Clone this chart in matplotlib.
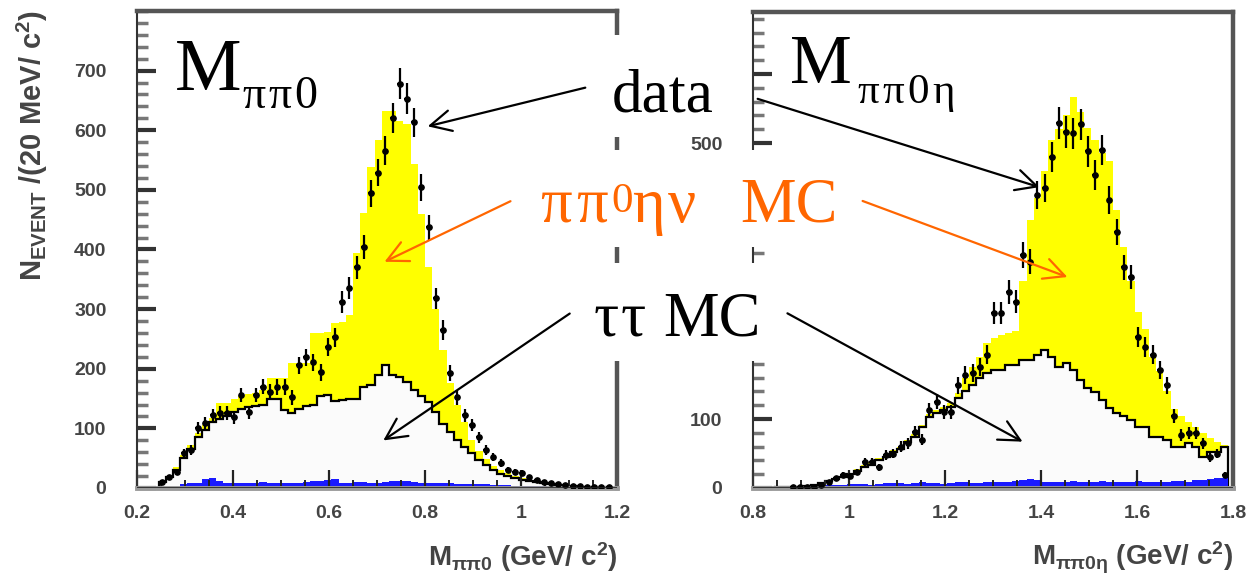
import numpy as np
import matplotlib
matplotlib.use('Agg')
import matplotlib.pyplot as plt
from matplotlib.patches import Rectangle, FancyArrowPatch
from matplotlib.ticker import MultipleLocator

W, H = 1249, 585

# histogram binning (15 MeV bins)
edges_L = 0.2 + 0.015 * np.arange(67)
edges_R = 0.8 + 0.015 * np.arange(67)

# M(pi pi0) panel
data_L = [0, 0, 0, 10, 18, 27, 58, 64, 100, 109, 122, 126, 126, 119, 156, 127, 156, 170, 161, 169,
          169, 152, 206, 219, 211, 194, 236, 253, 312, 335, 370, 404, 494, 529, 566, 621, 678, 653, 613, 504,
          437, 318, 265, 193, 152, 122, 106, 85, 64, 52, 42, 30, 27, 25, 18, 13, 10, 8, 7, 5,
          4, 3, 2, 2, 1, 1]
tautau_L = [0, 0, 0, 10, 18, 30, 50, 65, 85, 97, 110, 116, 120, 128, 132, 136, 138, 140, 150, 150,
            130, 125, 133, 138, 140, 155, 156, 146, 148, 150, 150, 170, 172, 189, 206, 189, 187, 177, 164, 155,
            145, 128, 108, 94, 80, 69, 59, 47, 38, 30, 24, 20, 16, 13, 11, 10, 8, 7, 5, 4,
            3, 2, 2, 1, 1, 0]
total_L = [0, 0, 0, 12, 20, 35, 56, 72, 92, 105, 118, 142, 142, 150, 154, 158, 160, 164, 184, 184,
           184, 209, 209, 209, 260, 260, 262, 276, 278, 290, 394, 461, 538, 583, 633, 633, 615, 611, 544, 460,
           370, 300, 231, 176, 140, 110, 80, 62, 48, 37, 30, 25, 20, 16, 13, 11, 9, 8, 6, 5,
           4, 3, 2, 2, 1, 1]
other_L = [0, 0, 0, 0, 0, 0, 6, 8, 9, 15, 16, 11, 9, 8, 8, 9, 9, 10, 9, 8,
           8, 8, 9, 10, 11, 12, 14, 15, 9, 9, 10, 10, 9, 9, 10, 11, 12, 11, 10, 9,
           9, 8, 8, 8, 7, 7, 7, 6, 6, 5, 5, 5, 4, 4, 3, 3, 3, 2, 2, 2,
           2, 1, 1, 1, 1, 0]

# M(pi pi0 eta) panel
data_R = [0, 0, 0, 0, 0, 1, 1, 2, 2, 5, 9, 14, 19, 17, 23, 38, 38, 30, 48, 50,
          60, 65, 81, 70, 113, 125, 110, 110, 149, 164, 167, 175, 193, 254, 254, 284, 270, 338, 328, 425,
          435, 480, 529, 516, 514, 527, 488, 454, 490, 417, 371, 320, 306, 219, 204, 193, 171, 149, 104, 77,
          80, 80, 65, 45, 50, 19]
tautau_R = [0, 0, 0, 1, 1, 2, 2, 3, 5, 7, 10, 13, 16, 20, 25, 30, 34, 40, 45, 52,
            57, 66, 74, 88, 103, 109, 113, 117, 130, 140, 150, 160, 167, 171, 171, 178, 178, 185, 185, 193,
            200, 190, 175, 181, 171, 157, 145, 139, 128, 116, 109, 104, 99, 88, 88, 74, 74, 70, 59, 59,
            65, 59, 45, 52, 52, 59]
total_R = [0, 0, 0, 1, 2, 3, 3, 4, 6, 9, 12, 15, 18, 22, 27, 33, 37, 43, 48, 55,
           60, 69, 78, 92, 107, 113, 118, 123, 137, 160, 175, 190, 210, 218, 222, 225, 228, 300, 388, 420,
           460, 504, 520, 540, 567, 545, 522, 505, 485, 474, 403, 350, 300, 255, 230, 190, 170, 140, 115, 105,
           95, 88, 80, 72, 66, 62]
other_R = [0, 0, 0, 0, 0, 0, 0, 0, 0, 0, 4, 5, 5, 6, 6, 6, 5, 6, 7, 7,
           7, 6, 7, 8, 7, 7, 6, 7, 8, 8, 7, 7, 8, 9, 9, 8, 10, 12, 13, 11,
           9, 8, 9, 9, 10, 9, 8, 9, 10, 9, 8, 9, 9, 10, 9, 9, 8, 9, 10, 10,
           9, 11, 12, 13, 14, 15]

xticks_L = [0.2, 0.4, 0.6, 0.8, 1.0, 1.2]
xlabels_L = ['0.2', '0.4', '0.6', '0.8', '1', '1.2']
xticks_R = [0.8, 1.0, 1.2, 1.4, 1.6, 1.8]
xlabels_R = ['0.8', '1', '1.2', '1.4', '1.6', '1.8']
yticks_L = [0, 100, 200, 300, 400, 500, 600, 700]
ylabels_L = ['0', '100', '200', '300', '400', '500', '600', '700']
yticks_R = [0, 100, 200, 300, 400, 500, 600]
# labels 200-400 and 600 sit under the annotation boxes in the original
ylabels_R = ['0', '100', '', '', '', '500', '']

plt.rcParams.update({
    'mathtext.fontset': 'custom',
    'mathtext.rm': 'Liberation Sans:bold',
    'mathtext.it': 'Liberation Sans:bold',
    'mathtext.bf': 'Liberation Sans:bold',
})

fig = plt.figure(figsize=(W / 100, H / 100), dpi=100)
axL = fig.add_axes([137 / W, 97 / H, 480 / W, 477 / H])
axR = fig.add_axes([753 / W, 97 / H, 480 / W, 476 / H])

gray = '#555555'


def panel(ax, edges, data, tau, total, other, xlim, ylim, xt, xl, yt, yl):
    centers = 0.5 * (edges[:-1] + edges[1:])
    ax.stairs(total, edges, fill=True, color='#ffff00', lw=0)
    ax.stairs(tau, edges, fill=True, color='#fbfbfb', lw=0)
    ax.stairs(tau, edges, color='black', lw=1.6)
    ax.stairs(other, edges, fill=True, color='#1a1aff', lw=0)
    d = np.array(data, dtype=float)
    m = d > 0
    ax.errorbar(centers[m], d[m], yerr=np.sqrt(d[m]), xerr=0.006, fmt='o', ms=3.8,
                color='black', elinewidth=1.6, capsize=0, zorder=4)
    ax.set_xlim(*xlim)
    ax.set_ylim(*ylim)
    ax.xaxis.set_minor_locator(MultipleLocator(0.05))
    ax.yaxis.set_minor_locator(MultipleLocator(20))
    ax.set_xticks(xt)
    ax.set_xticklabels(xl, fontsize=14, fontweight='bold', color='#444444', family='Liberation Sans')
    ax.set_yticks(yt)
    ax.set_yticklabels(yl, fontsize=14, fontweight='bold', color='#444444', family='Liberation Sans')
    ax.tick_params(axis='x', which='major', direction='in', length=13, width=1.6, pad=12, color='#222222')
    ax.tick_params(axis='x', which='minor', direction='in', length=6, width=1.4, color='#222222')
    ax.tick_params(axis='y', which='major', direction='in', length=14, width=3, pad=22, color='#333333')
    ax.tick_params(axis='y', which='minor', direction='in', length=8, width=2.5, color='#777777')
    ax.spines['top'].set_linewidth(3.2)
    ax.spines['top'].set_color(gray)
    ax.spines['right'].set_linewidth(3.2)
    ax.spines['right'].set_color(gray)
    ax.spines['left'].set_linewidth(1.5)
    ax.spines['left'].set_color('#333333')
    ax.spines['bottom'].set_linewidth(3.5)
    ax.spines['bottom'].set_color('#9a9a9a')
    ax.axhline(0, color='#222222', lw=1.2, zorder=5)


panel(axL, edges_L, data_L, tautau_L, total_L, other_L, (0.2, 1.2), (0, 800),
      xticks_L, xlabels_L, yticks_L, ylabels_L)
panel(axR, edges_R, data_R, tautau_R, total_R, other_R, (0.8, 1.8), (0, 690),
      xticks_R, xlabels_R, yticks_R, ylabels_R)

# axis titles (ROOT style, right/top aligned)
fig.text(617 / W, 1 - 566 / H, r'$M_{\pi\pi0}$ (GeV/ c$^{2}$)', ha='right', va='baseline',
         fontsize=20, fontweight='bold', color='#444444', family='Liberation Sans')
fig.text(1233 / W, 1 - 566 / H, r'$M_{\pi\pi0\eta}$ (GeV/ c$^{2}$)', ha='right', va='baseline',
         fontsize=20, fontweight='bold', color='#444444', family='Liberation Sans')
fig.text(32 / W, 1 - 10 / H, r'$N_{EVENT}$ /(20 MeV/ c$^{2}$)', rotation=90, ha='center', va='top',
         fontsize=21, fontweight='bold', color='#444444', family='Liberation Sans')


def fx(x, y):
    return (x / W, 1 - y / H)


# white boxes behind the annotation texts
for x0, y0, x1, y1 in [(560, 35, 748, 137), (522, 150, 852, 247), (576, 263, 778, 361)]:
    fig.add_artist(Rectangle(fx(x0, y1), (x1 - x0) / W, (y1 - y0) / H, transform=fig.transFigure,
                             facecolor='white', edgecolor='none', zorder=5))


def put(pieces, color='black'):
    for s, size, x, y in pieces:
        fig.text(x / W, 1 - y / H, s, fontsize=size, ha='left', va='baseline',
                 family='Liberation Serif', color=color, zorder=6)


orange = '#ff6600'
put([('M', 54, 175, 90), ('π', 33, 242, 108), ('π', 33, 268, 108), ('0', 33, 294, 108)])
put([('M', 50, 790, 83), ('π', 31, 857, 103), ('π', 31, 882, 103), ('0', 31, 907, 103), ('η', 31, 932, 103)])
put([('data', 44, 612, 112)])
put([('π', 45, 540, 222), ('π', 45, 576, 222), ('0', 31, 611, 212), ('η', 45, 632, 222),
     ('ν', 45, 668, 222), ('MC', 45, 740, 222)], color=orange)
put([('τ', 45, 594, 335), ('τ', 45, 621, 335), ('MC', 45, 663, 335)])

arrows = [((588, 87), (425, 127), 'black'),
          ((755, 98), (1042, 188), 'black'),
          ((513, 200), (382, 263), orange),
          ((860, 200), (1070, 278), orange),
          ((572, 312), (381, 442), 'black'),
          ((785, 312), (1025, 443), 'black')]
for a, b, c in arrows:
    fig.add_artist(FancyArrowPatch(fx(*a), fx(*b), transform=fig.transFigure,
                                   arrowstyle='->,head_length=0.75,head_width=0.375',
                                   mutation_scale=20, lw=1.6, color=c, zorder=7))

fig.savefig('out.png', dpi=100)
